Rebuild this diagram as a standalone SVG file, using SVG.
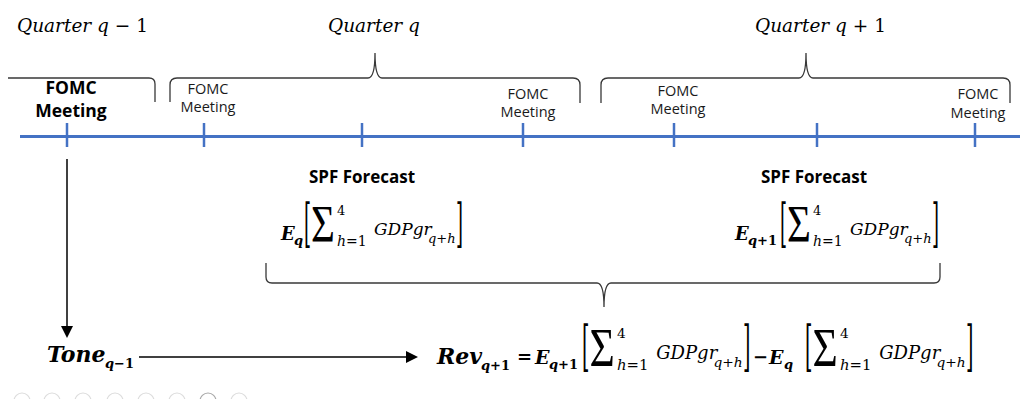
<svg xmlns="http://www.w3.org/2000/svg" xmlns:xlink="http://www.w3.org/1999/xlink" width="1020" height="399" viewBox="0 0 1020 399">
<style>
.bg{fill:#ffffff}
.tl{stroke:#4472C4;stroke-width:3;fill:none}
.tick{stroke:#4472C4;stroke-width:2.5}
.brace{fill:none;stroke:#383838;stroke-width:1.3}
.arr{stroke:#000;stroke-width:1.5;fill:none}
.lab{font-family:"Open Sans","Liberation Sans",sans-serif;font-size:14.5px;text-anchor:middle;fill:#1a1a1a}
.labb{font-family:"Open Sans","Liberation Sans",sans-serif;font-size:17.5px;font-weight:bold;text-anchor:middle;fill:#000}
.spf{font-family:"Open Sans","Liberation Sans",sans-serif;font-size:17px;font-weight:bold;text-anchor:middle;fill:#000}
.m{font-family:"DejaVu Serif","Liberation Serif",serif;fill:#000}
.it{font-style:italic}
.up{font-style:normal}
.bi{font-style:italic;font-weight:bold}
.bu{font-style:normal;font-weight:bold}
.q{font-size:18.5px;font-style:italic}
.big{font-size:18px}
.sub{font-size:13px}
.gdp{font-size:17px;font-style:italic}
.dot{fill:none;stroke:#dcdcdc;stroke-width:1.2}
</style>
<defs>
<marker id="ah" viewBox="0 0 10 10" refX="0" refY="5" markerWidth="12" markerHeight="12" markerUnits="userSpaceOnUse" orient="auto">
<path d="M0,0 L10,5 L0,10 z" fill="#000"/>
</marker>
<g id="sum" class="m">
<text class="up" font-size="18" transform="translate(0,1.2) scale(1,2.87)">[</text>
<text class="up" font-family="Liberation Serif" font-size="41" transform="translate(7,2) scale(1,1.28)">Σ</text>
<text class="up" font-size="13" x="33" y="-25">4</text>
<text font-size="14" x="33" y="6"><tspan class="it">h</tspan><tspan class="up">=1</tspan></text>
<text class="gdp" x="70" y="-5">GDPgr</text>
<text class="sub" x="124" y="3"><tspan class="it">q</tspan><tspan class="up">+</tspan><tspan class="it">h</tspan></text>
<text class="up" font-size="18" transform="translate(152,1.2) scale(1,2.87)">]</text>
</g>
</defs>
<rect class="bg" x="0" y="0" width="1020" height="399"/>

<g id="quarter-labels" class="m">
<text class="q" x="17" y="32">Quarter <tspan>q</tspan> <tspan class="up">−</tspan> <tspan class="up">1</tspan></text>
<text class="q" x="328" y="32">Quarter <tspan>q</tspan></text>
<text class="q" x="755" y="32">Quarter <tspan>q</tspan> <tspan class="up">+</tspan> <tspan class="up">1</tspan></text>
</g>

<g id="braces">
<path class="brace" d="M8,78 H149 Q155,78 155,84 V102"/>
<path class="brace" d="M170,102 V85 Q170,78 177,78 H368 Q375,78 375,53 Q375,78 382,78 H573 Q580,78 580,85 V103"/>
<path class="brace" d="M601,103 V85 Q601,78 608,78 H799 Q806,78 806,53 Q806,78 813,78 H1003 Q1010,78 1010,85 V103"/>
<path class="brace" d="M266,263 V277 Q266,283 272,283 H597 Q604,283 604,307 Q604,283 611,283 H934 Q940,283 940,277 V263"/>
</g>

<g id="timeline">
<line class="tl" x1="20" y1="136.5" x2="1020" y2="136.5"/>
<line class="tick" x1="67" y1="123" x2="67" y2="147"/>
<line class="tick" x1="204" y1="123" x2="204" y2="147"/>
<line class="tick" x1="362" y1="123" x2="362" y2="147"/>
<line class="tick" x1="523" y1="123" x2="523" y2="147"/>
<line class="tick" x1="674" y1="123" x2="674" y2="147"/>
<line class="tick" x1="817" y1="123" x2="817" y2="147"/>
<line class="tick" x1="975" y1="123" x2="975" y2="147"/>
</g>

<g id="fomc1"><text class="labb" x="71" y="94">FOMC</text><text class="labb" x="71" y="117">Meeting</text></g>
<g id="fomc2"><text class="lab" x="208" y="94">FOMC</text><text class="lab" x="208" y="112">Meeting</text></g>
<g id="fomc3"><text class="lab" x="528" y="99">FOMC</text><text class="lab" x="528" y="117">Meeting</text></g>
<g id="fomc4"><text class="lab" x="678" y="96">FOMC</text><text class="lab" x="678" y="114">Meeting</text></g>
<g id="fomc5"><text class="lab" x="978" y="99">FOMC</text><text class="lab" x="978" y="118">Meeting</text></g>

<g id="spf-q">
<text class="spf" x="362" y="183">SPF Forecast</text>
<g class="m"><text class="bi big" x="281" y="240">E</text><text class="bi sub" x="294" y="245">q</text></g>
<use xlink:href="#sum" href="#sum" transform="translate(304,240)"/>
</g>

<g id="spf-q1">
<text class="spf" x="814" y="183">SPF Forecast</text>
<g class="m"><text class="bi big" x="735" y="240">E</text><text class="sub" x="748" y="245"><tspan class="bi">q</tspan><tspan class="bu">+1</tspan></text></g>
<use xlink:href="#sum" href="#sum" transform="translate(780,240)"/>
</g>

<g id="tone" class="m">
<text class="bi" font-size="22" x="47" y="362">Tone</text>
<text class="sub" font-size="11.5" x="105" y="368"><tspan class="bi">q</tspan><tspan class="bu">−1</tspan></text>
</g>

<g id="rev" class="m">
<text class="bi" font-size="22" x="437" y="364">Rev</text>
<text class="sub" x="481" y="370"><tspan class="bi">q</tspan><tspan class="bu">+1</tspan></text>
<text class="bu" font-size="18" x="517" y="363">=</text>
<text class="bi" font-size="19" x="535" y="364">E</text>
<text class="sub" x="549" y="369"><tspan class="bi">q</tspan><tspan class="bu">+1</tspan></text>
<use xlink:href="#sum" href="#sum" transform="translate(582,364) scale(1.06)"/>
<text class="bu" font-size="18" x="753" y="363">−</text>
<text class="bi" font-size="19" x="769" y="364">E</text>
<text class="bi sub" x="784" y="369">q</text>
<use xlink:href="#sum" href="#sum" transform="translate(805,364) scale(1.06)"/>
</g>

<g id="connectors">
<line class="arr" x1="67" y1="159" x2="67" y2="326" marker-end="url(#ah)"/>
<line class="arr" x1="139" y1="357" x2="406" y2="357" marker-end="url(#ah)"/>
</g>

<g id="dots">
<circle class="dot" cx="22" cy="401" r="8"/>
<circle class="dot" cx="52" cy="401" r="8"/>
<circle class="dot" cx="83" cy="401" r="8"/>
<circle class="dot" cx="115" cy="401" r="8"/>
<circle class="dot" cx="146" cy="401" r="8"/>
<circle class="dot" cx="177" cy="401" r="8"/>
<circle class="dot" cx="208" cy="401" r="8" style="stroke:#a8a8a8"/>
<circle class="dot" cx="239" cy="401" r="8"/>
</g>
</svg>
